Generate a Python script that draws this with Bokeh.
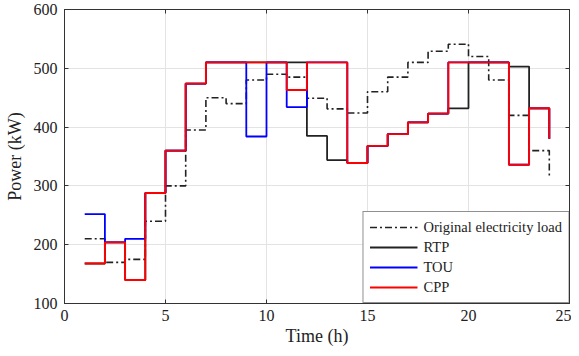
from bokeh.plotting import figure
from bokeh.models import LinearAxis, Legend, LegendItem, FixedTicker, Range1d
from bokeh.embed import file_html
from bokeh.resources import INLINE

hours = list(range(1, 25))
original = [210, 170, 175, 240, 300, 395, 450, 440, 480, 490, 485, 449,
            431, 424, 460, 485, 510, 529, 541, 520, 480, 420, 360, 317]
rtp = [168, 204, 140, 288, 360, 474, 510, 510, 510, 510, 510, 385,
       344, 339, 368, 388, 408, 423, 432, 510, 510, 503, 432, 380]
tou = [252, 204, 210, 288, 360, 474, 510, 510, 384, 510, 434, 510,
       510, 339, 368, 388, 408, 423, 510, 510, 510, 336, 432, 380]
cpp = [168, 204, 140, 288, 360, 474, 510, 510, 510, 510, 463, 510,
       510, 339, 368, 388, 408, 423, 510, 510, 510, 336, 432, 380]

x_ticks = [0, 5, 10, 15, 20, 25]
y_ticks = [100, 200, 300, 400, 500, 600]

FONT = "Liberation Serif"

p = figure(frame_width=505, frame_height=294, output_backend="svg",
           toolbar_location=None, x_range=Range1d(0, 25), y_range=Range1d(100, 600),
           min_border_left=64, min_border_right=2, min_border_top=9, min_border_bottom=2)
p.background_fill_color = "white"
p.border_fill_color = "white"
p.outline_line_color = "#333333"
p.outline_line_width = 1

for ax in (p.xaxis[0], p.yaxis[0]):
    ax.major_tick_in = 4
    ax.major_tick_out = 0
    ax.minor_tick_in = 0
    ax.minor_tick_out = 0
    ax.axis_line_color = "#333333"
    ax.major_tick_line_color = "#333333"
    ax.major_label_text_font = FONT
    ax.major_label_text_font_size = "16px"
    ax.major_label_text_color = "#222222"
    ax.axis_label_text_font = FONT
    ax.axis_label_text_font_size = "18px"
    ax.axis_label_text_font_style = "normal"
    ax.axis_label_text_color = "#222222"
p.xaxis[0].ticker = FixedTicker(ticks=x_ticks)
p.yaxis[0].ticker = FixedTicker(ticks=y_ticks)
p.xaxis[0].axis_label = "Time (h)"
p.yaxis[0].axis_label = "Power (kW)"
p.xaxis[0].axis_label_standoff = 2
p.yaxis[0].axis_label_standoff = 6
p.xaxis[0].major_label_standoff = 6
p.yaxis[0].major_label_standoff = 7

top = LinearAxis(ticker=FixedTicker(ticks=x_ticks),
                 major_label_overrides={t: "" for t in x_ticks},
                 major_tick_in=4, major_tick_out=0, minor_tick_in=0, minor_tick_out=0,
                 axis_line_color="#333333", major_tick_line_color="#333333",
                 major_label_standoff=0)
right = LinearAxis(ticker=FixedTicker(ticks=y_ticks),
                   major_label_overrides={t: "" for t in y_ticks},
                   major_tick_in=4, major_tick_out=0, minor_tick_in=0, minor_tick_out=0,
                   axis_line_color="#333333", major_tick_line_color="#333333",
                   major_label_standoff=0)
p.add_layout(top, "above")
p.add_layout(right, "right")

p.xgrid.ticker = FixedTicker(ticks=x_ticks)
p.ygrid.ticker = FixedTicker(ticks=y_ticks)
p.xgrid.grid_line_color = "#e3e3e3"
p.ygrid.grid_line_color = "#e3e3e3"

r0 = p.step(hours, original, mode="after", line_color="#222222", line_width=1.6,
            line_dash="7 3 2 3")
r1 = p.step(hours, rtp, mode="after", line_color="#222222", line_width=1.8)
r2 = p.step(hours, tou, mode="after", line_color="#0000ff", line_width=1.8)
r3 = p.step(hours, cpp, mode="after", line_color="#ff0000", line_width=1.9)

legend = Legend(items=[
    LegendItem(label="Original electricity load", renderers=[r0]),
    LegendItem(label="RTP", renderers=[r1]),
    LegendItem(label="TOU", renderers=[r2]),
    LegendItem(label="CPP", renderers=[r3]),
], location="bottom_right")
legend.margin = 0
legend.padding = 6
legend.spacing = 2
legend.glyph_width = 48
legend.glyph_height = 18
legend.label_height = 18
legend.label_standoff = 6
legend.label_text_font = FONT
legend.label_text_font_size = "14.5px"
legend.label_text_color = "#222222"
legend.border_line_color = "#222222"
legend.border_line_width = 1
legend.background_fill_alpha = 1
p.add_layout(legend)

open("out.html", "w").write(file_html(p, INLINE))
